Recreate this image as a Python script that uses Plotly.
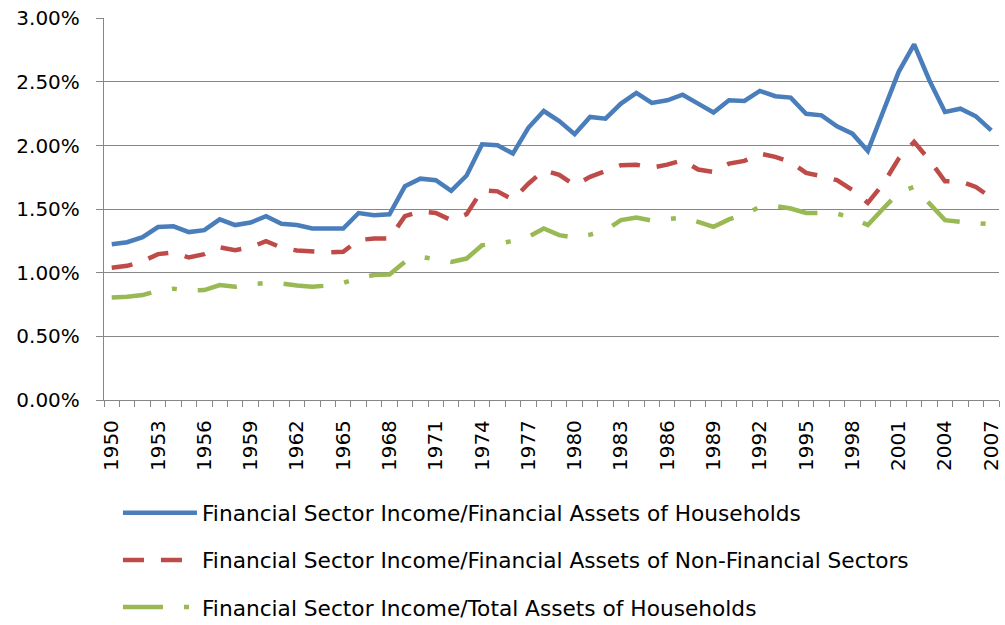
import plotly.graph_objects as go

years = list(range(1950, 2008))

households_fin = [1.225, 1.24, 1.28, 1.36, 1.365, 1.32, 1.335, 1.42, 1.375, 1.395,
                  1.445, 1.385, 1.375, 1.348, 1.348, 1.348, 1.47, 1.453, 1.46, 1.68,
                  1.74, 1.728, 1.644, 1.765, 2.01, 2.003, 1.937, 2.14, 2.272, 2.193,
                  2.09, 2.225, 2.212, 2.33, 2.414, 2.335, 2.356, 2.40, 2.33, 2.26,
                  2.356, 2.351, 2.43, 2.388, 2.377, 2.25, 2.238, 2.152, 2.094, 1.958,
                  2.27, 2.58, 2.796, 2.51, 2.265, 2.29, 2.23, 2.12]

nonfin_sectors = [1.04, 1.055, 1.09, 1.147, 1.16, 1.12, 1.147, 1.20, 1.178, 1.20,
                  1.249, 1.198, 1.175, 1.165, 1.16, 1.165, 1.257, 1.27, 1.27, 1.445,
                  1.484, 1.47, 1.414, 1.461, 1.65, 1.64, 1.576, 1.70, 1.806, 1.77,
                  1.688, 1.754, 1.80, 1.846, 1.85, 1.827, 1.85, 1.885, 1.812, 1.793,
                  1.858, 1.88, 1.937, 1.911, 1.872, 1.785, 1.76, 1.728, 1.65, 1.55,
                  1.70, 1.898, 2.029, 1.885, 1.72, 1.72, 1.675, 1.59]

households_total = [0.806, 0.811, 0.825, 0.86, 0.875, 0.86, 0.864, 0.903, 0.89, 0.91,
                    0.92, 0.916, 0.90, 0.89, 0.90, 0.92, 0.96, 0.982, 0.987, 1.086,
                    1.126, 1.11, 1.086, 1.112, 1.217, 1.23, 1.25, 1.283, 1.348, 1.296,
                    1.275, 1.30, 1.335, 1.414, 1.435, 1.41, 1.42, 1.435, 1.40, 1.361,
                    1.42, 1.46, 1.518, 1.524, 1.505, 1.471, 1.47, 1.465, 1.432, 1.375,
                    1.505, 1.631, 1.675, 1.544, 1.414, 1.40, 1.39, 1.382]

names = ["Financial Sector Income/Financial Assets of Households",
         "Financial Sector Income/Financial Assets of Non-Financial Sectors",
         "Financial Sector Income/Total Assets of Households"]

tick_years = list(range(1950, 2008, 3))
y_ticks = [0, 0.5, 1.0, 1.5, 2.0, 2.5, 3.0]

FONT = "DejaVu Sans, sans-serif"
GRID = "#878787"

fig = go.Figure()
fig.add_trace(go.Scatter(x=years, y=households_fin, mode="lines", name=names[0],
                         legendgroup="a",
                         line=dict(color="#4A7EBB", width=4.5)))
fig.add_trace(go.Scatter(x=years, y=nonfin_sectors, mode="lines", name=names[1],
                         legendgroup="b",
                         line=dict(color="#BE4B48", width=4.5, dash="21px,17px")))
fig.add_trace(go.Scatter(x=years, y=households_total, mode="lines", name=names[2],
                         legendgroup="c",
                         line=dict(color="#98B954", width=4.5, dash="40px,21px,5px,21px")))

fig.update_layout(
    width=1005, height=625,
    margin=dict(l=104, r=6, t=18, b=225, autoexpand=False),
    paper_bgcolor="white", plot_bgcolor="white",
    font=dict(family=FONT, size=20, color="#000000"),
    showlegend=True,
    legend=dict(
        x=0.0156, y=-0.241, xanchor="left", yanchor="top",
        orientation="v", itemwidth=74, tracegroupgap=16,
        font=dict(family=FONT, size=21.7, color="#000000"),
        bgcolor="rgba(0,0,0,0)",
    ),
    xaxis=dict(
        range=[1949.5, 2007.5],
        tickmode="array", tickvals=tick_years,
        ticktext=[str(y) for y in tick_years],
        tickangle=-90, ticks="", ticklabelstandoff=11,
        ticklabeloverflow="allow",
        showgrid=False, zeroline=False,
        showline=True, linecolor=GRID, linewidth=1.3,
        tickfont=dict(family=FONT, size=20),
        minor=dict(tickmode="array", tickvals=[1949.5 + i for i in range(59)],
                   ticks="outside", ticklen=6, tickcolor=GRID, tickwidth=1.3,
                   showgrid=False),
    ),
    yaxis=dict(
        range=[0, 3.003], tickmode="array", tickvals=y_ticks,
        ticktext=[f"{v:.2f}%" for v in y_ticks],
        ticks="outside", ticklen=7, tickcolor=GRID, tickwidth=1.3,
        showgrid=True, gridcolor=GRID, gridwidth=1.3,
        zeroline=False, showline=True, linecolor=GRID, linewidth=1.3,
        tickfont=dict(family=FONT, size=20),
        ticklabelstandoff=12, ticklabeloverflow="allow",
    ),
)

fig.write_html("out.html", config={"displayModeBar": False},
               post_script="document.body.style.margin='0px';")
